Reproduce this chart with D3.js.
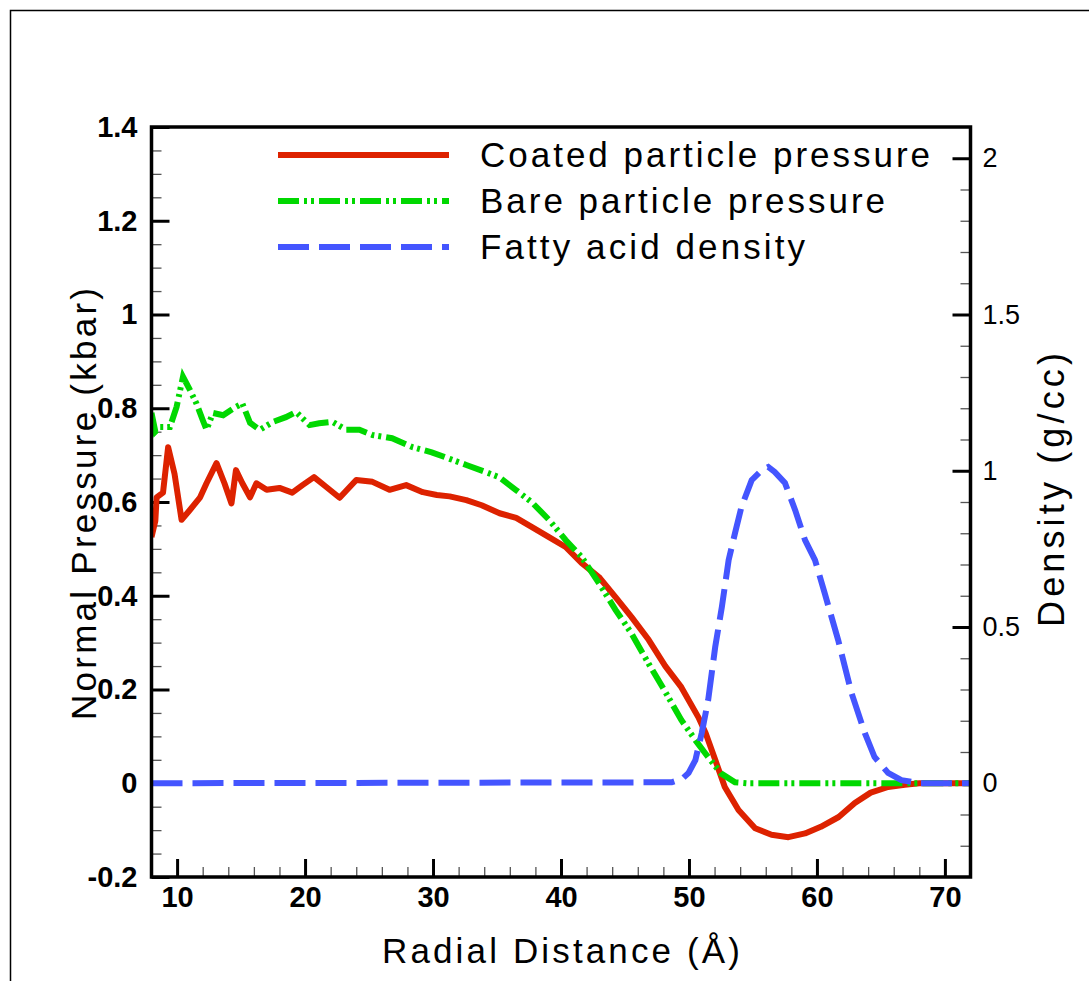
<!DOCTYPE html>
<html>
<head>
<meta charset="utf-8">
<script src="https://cdn.jsdelivr.net/npm/d3@7"></script>
<style>
  html, body { margin: 0; padding: 0; background: #fff; }
  svg { display: block; font-family: "Liberation Sans", Arial, Helvetica, sans-serif; }
</style>
</head>
<body>
<div id="chart"></div>
<script>
// radial distance (Å) and normal pressure (kbar), coated particle
const coatedX = [8.0, 8.3, 8.4, 8.9, 9.3, 9.8, 10.35, 11.0, 11.8, 12.3, 13.08, 13.7, 14.25, 14.6, 15.1, 15.7, 16.2, 17.0, 18.0, 19.0,
  19.8, 20.7, 21.66, 22.7, 24.0, 25.27, 26.6, 27.9, 29.2, 30.3, 31.3, 32.6, 33.8, 35.2, 36.5, 37.7, 39.06, 40.36, 41.6, 42.96,
  44.26, 45.5, 46.85, 48.15, 49.4, 50.75, 51.3, 52.05, 52.8, 53.87, 55.17, 56.45, 57.77, 59.07, 60.3, 61.7, 62.96, 64.2, 65.56, 66.86,
  68.0, 72.0];
const coatedP = [0.525, 0.56, 0.61, 0.62, 0.717, 0.66, 0.562, 0.583, 0.61, 0.64, 0.683, 0.64, 0.597, 0.668, 0.64, 0.61, 0.64, 0.626, 0.63, 0.62,
  0.636, 0.653, 0.632, 0.609, 0.647, 0.643, 0.626, 0.636, 0.621, 0.615, 0.612, 0.604, 0.593, 0.576, 0.566, 0.547, 0.525, 0.504, 0.47, 0.44,
  0.397, 0.355, 0.306, 0.25, 0.205, 0.14, 0.107, 0.05, -0.008, -0.057, -0.096, -0.11, -0.115, -0.107, -0.093, -0.072, -0.042, -0.02, -0.008, -0.003,
  0, 0];

// bare particle
const bareX = [8.0, 8.3, 8.66, 9.44, 9.96, 10.46, 11.0, 11.5, 12.0, 12.3, 12.8, 13.6, 14.6, 15.1, 15.7, 16.46, 17.5, 18.5, 19.3, 20.35,
  21.1, 22.15, 23.2, 24.25, 25.27, 26.8, 28.4, 29.9, 31.3, 32.6, 34.0, 35.16, 36.46, 37.7, 39.06, 40.36, 41.6, 42.96, 44.26, 45.5,
  46.85, 48.15, 49.4, 50.5, 51.27, 52.5, 53.6, 54.5, 72.0];
const bareP = [0.79, 0.75, 0.76, 0.76, 0.803, 0.867, 0.839, 0.811, 0.775, 0.754, 0.79, 0.785, 0.803, 0.81, 0.769, 0.754, 0.771, 0.781, 0.792, 0.764,
  0.768, 0.771, 0.754, 0.754, 0.743, 0.736, 0.717, 0.706, 0.692, 0.679, 0.665, 0.653, 0.626, 0.6, 0.562, 0.519, 0.483, 0.427, 0.37, 0.32,
  0.255, 0.195, 0.135, 0.092, 0.064, 0.021, 0.002, 0, 0];

// fatty acid density (g/cc)
const fattyX = [8.0, 48.65, 49.5, 49.97, 50.5, 51.0, 51.5, 52.05, 52.57, 53.1, 53.6, 54.1, 54.9, 55.7, 56.2, 56.7, 57.5, 58.3, 59.07, 59.85,
  60.6, 61.66, 62.7, 63.74, 64.5, 65.56, 66.6, 68.1, 72.0];
const fattyD = [0, 0.003, 0.015, 0.033, 0.074, 0.161, 0.266, 0.436, 0.564, 0.714, 0.801, 0.884, 0.97, 1.002, 1.012, 0.996, 0.961, 0.874, 0.778, 0.714,
  0.609, 0.458, 0.289, 0.161, 0.084, 0.033, 0.010, 0, 0];

const seriesNames = ['Coated particle pressure', 'Bare particle pressure', 'Fatty acid density'];

const xTicks = [10, 20, 30, 40, 50, 60, 70];
const yTicks = [-0.2, 0, 0.2, 0.4, 0.6, 0.8, 1, 1.2, 1.4];
const yTickLabels = ['-0.2', '0', '0.2', '0.4', '0.6', '0.8', '1', '1.2', '1.4'];
const y2Ticks = [0, 0.5, 1, 1.5, 2];
const y2TickLabels = ['0', '0.5', '1', '1.5', '2'];

const W = 1089, H = 981;
const plotL = 151.5, plotR = 970.5, plotT = 127, plotB = 877;

const svg = d3.select('#chart').append('svg')
  .attr('width', W).attr('height', H);

svg.append('rect').attr('width', W).attr('height', H).attr('fill', '#fff');

// outer frame (only top and left show in the picture)
svg.append('path')
  .attr('d', `M10.5,${H} V10.5 H${W}`)
  .attr('fill', 'none').attr('stroke', '#000').attr('stroke-width', 1.5);

const x = d3.scaleLinear().domain([8, 72]).range([plotL, plotR]);
const y = d3.scaleLinear().domain([-0.2, 1.4]).range([plotB, plotT]);
const y2 = d3.scaleLinear().domain([-0.3, 2.1]).range([plotB, plotT]);

const minorX = d3.range(8, 72.01, 2).filter(v => v % 10 !== 0 && v > 8 && v < 72);
const minorY = d3.range(-0.2, 1.401, 0.05).map(v => +v.toFixed(2))
  .filter(v => v > -0.2 && v < 1.4 && !yTicks.some(t => Math.abs(t - v) < 1e-6));
const minorY2 = d3.range(-0.3, 2.101, 0.1).map(v => +v.toFixed(2))
  .filter(v => v > -0.3 && v < 2.1 && !y2Ticks.some(t => Math.abs(t - v) < 1e-6));

function styleAxis(g, major) {
  g.select('.domain').remove();
  g.selectAll('.tick line')
    .attr('stroke', major ? '#000' : '#555')
    .attr('stroke-width', major ? 3 : 1.3);
}

// minor ticks
svg.append('g').attr('transform', `translate(0,${plotB})`)
  .call(d3.axisBottom(x).tickValues(minorX).tickSize(-10).tickFormat(''))
  .call(g => styleAxis(g, false));
svg.append('g').attr('transform', `translate(${plotL},0)`)
  .call(d3.axisLeft(y).tickValues(minorY).tickSize(-10).tickFormat(''))
  .call(g => styleAxis(g, false));
svg.append('g').attr('transform', `translate(${plotR},0)`)
  .call(d3.axisRight(y2).tickValues(minorY2).tickSize(-10).tickFormat(''))
  .call(g => styleAxis(g, false));

// major ticks + labels
const xAxis = svg.append('g').attr('transform', `translate(0,${plotB})`)
  .call(d3.axisBottom(x).tickValues(xTicks).tickSize(-18).tickPadding(9).tickFormat(d3.format('d')))
  .call(g => styleAxis(g, true));
xAxis.selectAll('text')
  .attr('fill', '#000').style('font-size', '29px').style('font-weight', 'bold');

const yAxis = svg.append('g').attr('transform', `translate(${plotL},0)`)
  .call(d3.axisLeft(y).tickValues(yTicks).tickSize(-18).tickPadding(14)
    .tickFormat((d, i) => yTickLabels[i]))
  .call(g => styleAxis(g, true));
yAxis.selectAll('text')
  .attr('fill', '#000').style('font-size', '29px').style('font-weight', 'bold');

const y2Axis = svg.append('g').attr('transform', `translate(${plotR},0)`)
  .call(d3.axisRight(y2).tickValues(y2Ticks).tickSize(-18).tickPadding(12)
    .tickFormat((d, i) => y2TickLabels[i]))
  .call(g => styleAxis(g, true));
y2Axis.selectAll('text')
  .attr('fill', '#000').style('font-size', '27px');

// clip + lines
svg.append('clipPath').attr('id', 'plot-clip')
  .append('rect').attr('x', plotL).attr('y', plotT).attr('width', plotR - plotL).attr('height', plotB - plotT);

const plot = svg.append('g').attr('clip-path', 'url(#plot-clip)');

const lineP = d3.line().x(d => x(d[0])).y(d => y(d[1]));
const lineD = d3.line().x(d => x(d[0])).y(d => y2(d[1]));

const red = '#dd2200', green = '#00d800', blue = '#4455ff';

plot.append('path')
  .datum(d3.zip(coatedX, coatedP))
  .attr('d', lineP)
  .attr('fill', 'none').attr('stroke', red).attr('stroke-width', 6)
  .attr('stroke-linejoin', 'round');

plot.append('path')
  .datum(d3.zip(bareX, bareP))
  .attr('d', lineP)
  .attr('fill', 'none').attr('stroke', green).attr('stroke-width', 6)
  .attr('stroke-dasharray', '21,5,3,4,3,5');

plot.append('path')
  .datum(d3.zip(fattyX, fattyD))
  .attr('d', lineD)
  .attr('fill', 'none').attr('stroke', blue).attr('stroke-width', 6)
  .attr('stroke-dasharray', '31,10');

// plot frame
svg.append('rect')
  .attr('x', plotL).attr('y', plotT).attr('width', plotR - plotL).attr('height', plotB - plotT)
  .attr('fill', 'none').attr('stroke', '#000').attr('stroke-width', 3.5);

// legend
const legend = [
  { name: seriesNames[0], color: red, dash: null, y: 155, len: 450 },
  { name: seriesNames[1], color: green, dash: '21,5,3,4,3,5', y: 201, len: 405 },
  { name: seriesNames[2], color: blue, dash: '31,10', y: 247, len: 325 },
];
const lg = svg.append('g');
legend.forEach(d => {
  lg.append('line')
    .attr('x1', 278).attr('x2', 449).attr('y1', d.y).attr('y2', d.y)
    .attr('stroke', d.color).attr('stroke-width', 6)
    .attr('stroke-dasharray', d.dash);
  lg.append('text')
    .attr('x', 480).attr('y', d.y + 12)
    .attr('textLength', d.len).attr('lengthAdjust', 'spacing')
    .style('font-size', '35px').attr('fill', '#000')
    .text(d.name);
});

// axis titles
svg.append('text')
  .attr('x', 382).attr('y', 963)
  .attr('textLength', 358).attr('lengthAdjust', 'spacing')
  .style('font-size', '35px').attr('fill', '#000')
  .text('Radial Distance (Å)');

svg.append('text')
  .attr('transform', 'translate(96,720) rotate(-90)')
  .attr('textLength', 432).attr('lengthAdjust', 'spacing')
  .style('font-size', '35px').attr('fill', '#000')
  .text('Normal Pressure (kbar)');

svg.append('text')
  .attr('transform', 'translate(1064,627) rotate(-90)')
  .attr('textLength', 274).attr('lengthAdjust', 'spacing')
  .style('font-size', '36px').attr('fill', '#000')
  .text('Density (g/cc)');
</script>
</body>
</html>
